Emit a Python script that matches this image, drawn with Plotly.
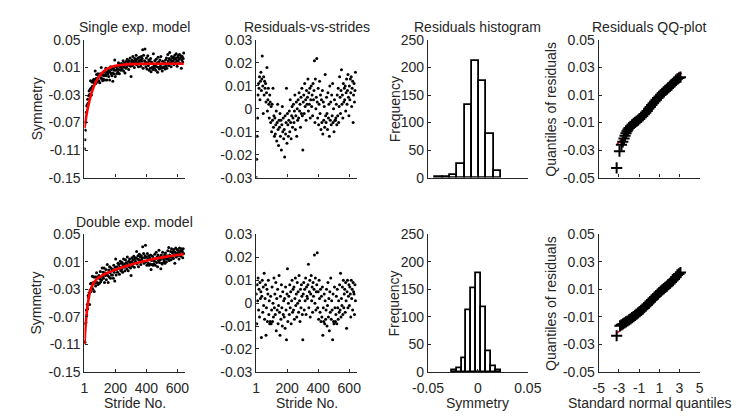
import plotly.graph_objects as go

# ---------------- data ----------------
# Row 1: single exponential model
fit_single_stride = [1, 4, 7, 10, 13, 16, 19, 25, 31, 37, 43, 49, 55, 61, 70, 79, 91, 103, 115, 130,
                     145, 160, 180, 210, 250, 300, 360, 450, 540, 640]
fit_single_value = [-0.0780, -0.0733, -0.0688, -0.0646, -0.0605, -0.0567, -0.0531, -0.0463, -0.0403, -0.0348,
                    -0.0298, -0.0254, -0.0214, -0.0177, -0.0130, -0.0089, -0.0043, -0.0006, 0.0024, 0.0054,
                    0.0077, 0.0095, 0.0113, 0.0129, 0.0142, 0.0150, 0.0153, 0.0155, 0.0155, 0.0155]

sym_single = [
    -0.108, -0.095, -0.081, -0.069, -0.055, -0.046, -0.044, -0.036, -0.042, -0.031,
    -0.024, -0.029, -0.022, -0.009, -0.020, -0.030, -0.011, -0.017, -0.009, -0.011,
    -0.007, -0.013, -0.008, 0.005, -0.013, -0.006, 0.000, -0.006, -0.011, 0.001,
    -0.001, -0.009, -0.001, -0.012, 0.001, -0.005, 0.010, -0.006, -0.001, -0.009,
    0.000, -0.007, -0.002, 0.004, -0.008, 0.000, 0.009, -0.002, -0.008, 0.003,
    0.001, 0.007, -0.003, 0.005, -0.008, 0.003, 0.011, 0.001, 0.007, -0.002,
    0.002, -0.010, 0.009, 0.001, 0.006, 0.021, -0.003, 0.011, 0.006, 0.001,
    0.008, 0.012, 0.003, 0.017, 0.007, 0.001, 0.011, 0.015, 0.006, 0.010,
    0.016, 0.008, 0.013, 0.020, 0.005, 0.011, 0.017, 0.002, 0.014, 0.009,
    0.019, 0.011, 0.022, 0.014, 0.017, 0.007, 0.020, 0.013, 0.024, 0.012,
    -0.003, 0.018, 0.021, 0.013, 0.026, 0.016, 0.019, 0.010, 0.023, 0.017,
    0.020, 0.028, 0.014, 0.022, 0.017, 0.024, 0.011, 0.019, 0.025, 0.016,
    0.021, 0.012, 0.026, 0.019, 0.023, 0.036, 0.009, 0.028, 0.015, 0.020,
    0.037, 0.018, 0.011, 0.024, 0.008, 0.017, 0.027, 0.013, 0.021, 0.006,
    0.019, 0.009, 0.023, 0.004, 0.018, 0.010, 0.016, 0.007, 0.030, 0.012,
    0.009, 0.020, 0.013, 0.006, 0.022, 0.011, 0.017, 0.003, 0.025, 0.010,
    0.018, 0.008, 0.021, 0.012, 0.026, 0.009, 0.015, 0.005, 0.019, 0.010,
    0.010, 0.011, 0.017, 0.008, 0.021, 0.012, 0.024, 0.009, 0.016, 0.029,
    0.020, 0.013, 0.023, 0.032, 0.017, 0.021, 0.011, 0.026, 0.018, 0.024,
    0.019, 0.025, 0.014, 0.022, 0.028, 0.017, 0.023, 0.030, 0.020, 0.012,
    0.025, 0.019, 0.028, 0.022, 0.029, 0.016, 0.024, 0.027, 0.009, 0.021,
    0.026, 0.018, 0.023, 0.031,
]

res_single = [
    -0.030, -0.022, -0.012, -0.004, 0.006, 0.011, 0.009, 0.014, 0.004, 0.012,
    0.016, 0.008, 0.013, 0.023, 0.010, -0.002, 0.014, 0.006, 0.012, 0.009,
    0.011, 0.003, 0.007, 0.018, -0.001, 0.004, 0.009, 0.002, -0.004, 0.006,
    0.003, -0.006, 0.001, -0.010, 0.002, -0.005, 0.009, -0.008, -0.003, -0.012,
    -0.004, -0.011, -0.007, -0.001, -0.014, -0.006, 0.002, -0.009, -0.016, -0.005,
    -0.008, -0.002, -0.012, -0.005, -0.018, -0.007, 0.001, -0.010, -0.004, -0.013,
    -0.009, -0.021, -0.003, -0.011, -0.006, 0.009, -0.015, -0.002, -0.007, -0.012,
    -0.005, -0.001, -0.010, 0.004, -0.006, -0.013, -0.003, 0.001, -0.008, -0.004,
    0.002, -0.006, -0.001, 0.006, -0.009, -0.003, 0.003, -0.012, 0.000, -0.005,
    0.004, -0.004, 0.007, -0.001, 0.002, -0.008, 0.005, -0.002, 0.009, -0.003,
    -0.018, 0.003, 0.006, -0.002, 0.011, 0.001, 0.004, -0.005, 0.008, 0.002,
    0.005, 0.013, -0.001, 0.007, 0.002, 0.009, -0.004, 0.004, 0.010, 0.001,
    0.006, -0.003, 0.011, 0.004, 0.008, 0.021, -0.006, 0.013, 0.000, 0.005,
    0.022, 0.003, -0.004, 0.009, -0.007, 0.002, 0.012, -0.002, 0.006, -0.009,
    0.004, -0.006, 0.008, -0.011, 0.003, -0.005, 0.001, -0.008, 0.015, -0.003,
    -0.006, 0.005, -0.002, -0.009, 0.007, -0.004, 0.002, -0.012, 0.010, -0.005,
    0.003, -0.007, 0.006, -0.003, 0.011, -0.006, 0.000, -0.010, 0.004, -0.005,
    -0.005, -0.004, 0.002, -0.007, 0.006, -0.003, 0.009, -0.006, 0.001, 0.014,
    0.005, -0.002, 0.008, 0.017, 0.002, 0.006, -0.004, 0.011, 0.003, 0.009,
    0.004, 0.010, -0.001, 0.007, 0.013, 0.002, 0.008, 0.015, 0.005, -0.003,
    0.010, 0.004, 0.013, 0.007, 0.014, 0.001, 0.009, 0.012, -0.006, 0.006,
    0.011, 0.003, 0.008, 0.016,
]

hist_single_center = [-0.03885, -0.03155, -0.02425, -0.01695, -0.00965, -0.00235, 0.00495, 0.01225, 0.01955]
hist_single_count = [1, 1, 4, 25, 132, 211, 175, 80, 12]
hist_single_binwidth = 0.0073

qq_single_theory = [-3.23, -2.95, -2.75, -2.62, -2.5, -2.4, -2.3, -2.2, -2.1, -2.0,
                    -1.85, -1.7, -1.55, -1.4, -1.25, -1.1, -0.95, -0.8, -0.65, -0.5,
                    -0.35, -0.2, -0.05, 0.1, 0.25, 0.4, 0.55, 0.7, 0.85, 1.0,
                    1.15, 1.3, 1.45, 1.6, 1.75, 1.9, 2.05, 2.2, 2.35, 2.5,
                    2.65, 2.8, 2.95, 3.1]
qq_single_sample = [-0.0430, -0.0308, -0.0262, -0.0240, -0.0215, -0.0195, -0.0178, -0.0163, -0.0150, -0.0139,
                    -0.0127, -0.0116, -0.0106, -0.0098, -0.0090, -0.0082, -0.0072, -0.0062, -0.0052, -0.0040,
                    -0.0028, -0.0015, 0.0000, 0.0014, 0.0028, 0.0041, 0.0053, 0.0066, 0.0078, 0.0090,
                    0.0102, 0.0113, 0.0124, 0.0134, 0.0143, 0.0153, 0.0163, 0.0173, 0.0184, 0.0196,
                    0.0208, 0.0218, 0.0225, 0.0230]
qq_single_ref_x = [-3.2, 3.2]
qq_single_ref_y = [-0.0259, 0.0261]

# Row 2: double exponential model
fit_double_stride = [1, 4, 7, 10, 13, 16, 19, 22, 25, 31, 37, 43, 49, 55, 61, 70, 80, 91,
                     121, 151, 181, 211, 241, 271, 301, 331, 361, 391, 421, 451, 481, 511, 541, 571, 601, 640]
fit_double_value = [-0.1100, -0.0977, -0.0876, -0.0785, -0.0706, -0.0637, -0.0576, -0.0523, -0.0476,
                    -0.0400, -0.0341, -0.0294, -0.0257, -0.0228, -0.0204, -0.0176, -0.0153, -0.0132,
                    -0.0090, -0.0058, -0.0031, -0.0005, 0.0019, 0.0041, 0.0061, 0.0080, 0.0098,
                    0.0114, 0.0129, 0.0144, 0.0157, 0.0169, 0.0180, 0.0190, 0.0200, 0.0211]

sym_double = [
    -0.106, -0.107, -0.080, -0.078, -0.060, -0.067, -0.052, -0.058, -0.039, -0.042,
    -0.035, -0.052, -0.031, -0.022, -0.033, -0.021, -0.027, -0.011, -0.030, -0.020,
    -0.012, -0.033, -0.021, -0.012, -0.025, -0.012, -0.006, -0.020, -0.013, -0.023,
    -0.021, -0.010, -0.021, -0.015, -0.004, -0.019, -0.011, -0.016, 0.001, -0.011,
    -0.005, -0.014, 0.001, -0.020, -0.006, -0.010, -0.001, -0.016, -0.007, 0.006,
    -0.010, -0.020, -0.002, -0.012, 0.003, -0.006, -0.014, 0.001, -0.009, -0.002,
    -0.009, -0.001, -0.014, 0.005, -0.005, -0.018, 0.002, 0.014, -0.009, -0.001,
    0.003, -0.005, 0.008, 0.000, 0.006, -0.008, 0.002, 0.011, -0.003, 0.008,
    -0.001, 0.009, -0.005, 0.005, 0.014, 0.002, 0.007, -0.003, 0.013, 0.004,
    0.009, 0.000, 0.017, 0.006, -0.003, 0.011, 0.003, 0.014, 0.009, 0.001,
    -0.010, 0.010, 0.016, 0.004, 0.013, 0.008, 0.018, 0.002, 0.015, 0.011,
    0.010, 0.016, 0.025, 0.007, 0.014, 0.019, 0.003, 0.013, 0.021, 0.011,
    0.017, 0.006, 0.019, 0.013, 0.016, 0.032, 0.011, 0.022, 0.008, 0.016,
    0.019, 0.034, 0.010, 0.017, 0.005, 0.022, 0.014, 0.008, 0.019, 0.005,
    0.016, 0.007, 0.020, -0.001, 0.012, 0.006, 0.018, 0.005, 0.015, 0.007,
    0.011, 0.021, 0.005, 0.014, 0.024, 0.009, 0.017, 0.003, 0.020, 0.012,
    0.027, 0.009, 0.017, 0.013, 0.000, 0.020, 0.008, 0.007, 0.024, 0.015,
    0.009, 0.012, 0.020, 0.008, 0.023, 0.015, 0.010, 0.019, 0.014, 0.026,
    0.015, 0.031, 0.012, 0.020, 0.017, 0.025, 0.013, 0.029, 0.017, 0.023,
    0.025, 0.015, 0.028, 0.020, 0.008, 0.024, 0.030, 0.017, 0.022, 0.028,
    0.019, 0.027, 0.024, 0.014, 0.030, 0.022, 0.026, 0.018, 0.029, 0.026,
    0.025, 0.016, 0.029, 0.022,
]

res_double = [
    0.004, -0.009, 0.008, 0.001, 0.011, -0.003, 0.006, -0.006, 0.009, 0.002,
    0.005, -0.015, 0.003, 0.010, -0.004, 0.007, -0.001, 0.013, -0.007, 0.002,
    0.008, -0.014, -0.002, 0.006, -0.008, 0.004, 0.010, -0.005, 0.001, -0.009,
    -0.008, 0.003, -0.009, -0.003, 0.007, -0.008, 0.000, -0.006, 0.011, -0.002,
    0.004, -0.005, 0.009, -0.012, 0.002, -0.003, 0.006, -0.009, -0.001, 0.012,
    -0.004, -0.014, 0.003, -0.007, 0.008, -0.002, -0.010, 0.005, -0.005, 0.001,
    -0.006, 0.002, -0.011, 0.007, -0.003, -0.016, 0.004, 0.015, -0.008, 0.000,
    0.003, -0.005, 0.008, -0.002, 0.005, -0.009, 0.001, 0.010, -0.004, 0.006,
    -0.003, 0.007, -0.007, 0.002, 0.011, -0.001, 0.004, -0.006, 0.009, 0.000,
    0.005, -0.004, 0.012, 0.001, -0.008, 0.006, -0.002, 0.008, 0.003, -0.005,
    -0.016, 0.004, 0.009, -0.003, 0.006, 0.001, 0.011, -0.005, 0.007, 0.003,
    0.002, 0.008, 0.017, -0.002, 0.005, 0.010, -0.006, 0.004, 0.012, 0.001,
    0.007, -0.004, 0.009, 0.003, 0.006, 0.021, 0.000, 0.011, -0.003, 0.005,
    0.008, 0.022, -0.002, 0.005, -0.007, 0.010, 0.002, -0.004, 0.006, -0.008,
    0.003, -0.006, 0.007, -0.014, -0.002, -0.008, 0.004, -0.009, 0.001, -0.007,
    -0.003, 0.006, -0.010, -0.001, 0.009, -0.006, 0.002, -0.012, 0.005, -0.004,
    0.011, -0.007, 0.001, -0.003, -0.016, 0.004, -0.008, -0.009, 0.007, -0.002,
    -0.008, -0.005, 0.003, -0.009, 0.006, -0.002, -0.007, 0.001, -0.004, 0.008,
    -0.003, 0.013, -0.006, 0.002, -0.001, 0.007, -0.005, 0.010, -0.002, 0.004,
    0.006, -0.004, 0.009, 0.001, -0.011, 0.005, 0.010, -0.002, 0.003, 0.008,
    -0.001, 0.007, 0.004, -0.006, 0.010, 0.002, 0.006, -0.003, 0.009, 0.005,
    0.004, -0.005, 0.008, 0.001,
]

hist_double_center = [-0.0237, -0.0188, -0.0139, -0.0090, -0.0041, 0.0008, 0.0057, 0.0106, 0.0155, 0.0204]
hist_double_count = [2, 7, 25, 112, 152, 180, 118, 38, 10, 2]
hist_double_binwidth = 0.0049

qq_double_theory = [-3.23, -2.9, -2.75, -2.6, -2.45, -2.3, -2.15, -2.0, -1.85, -1.7,
                    -1.55, -1.4, -1.25, -1.1, -0.95, -0.8, -0.65, -0.5, -0.35, -0.2,
                    -0.05, 0.1, 0.25, 0.4, 0.55, 0.7, 0.85, 1.0, 1.15, 1.3,
                    1.45, 1.6, 1.75, 1.9, 2.05, 2.2, 2.35, 2.5, 2.65, 2.8,
                    2.95, 3.1]
qq_double_sample = [-0.0237, -0.0165, -0.0158, -0.0151, -0.0144, -0.0137, -0.0130, -0.0122, -0.0114, -0.0106,
                    -0.0098, -0.0089, -0.0080, -0.0071, -0.0062, -0.0052, -0.0043, -0.0033, -0.0022, -0.0011,
                    0.0000, 0.0011, 0.0022, 0.0033, 0.0044, 0.0055, 0.0066, 0.0077, 0.0087, 0.0097,
                    0.0106, 0.0115, 0.0124, 0.0134, 0.0144, 0.0154, 0.0164, 0.0176, 0.0190, 0.0205,
                    0.0212, 0.0222]
qq_double_ref_x = [-3.2, 3.2]
qq_double_ref_y = [-0.0219, 0.0219]

# tick labels
stride_ticks = [1, 200, 400, 600]
stride_labels = ["1", "200", "400", "600"]
sym_ticks = [-0.15, -0.11, -0.07, -0.03, 0.01, 0.05]
sym_labels = ["-0.15", "-0.11", "-0.07", "-0.03", "0.01", "0.05"]
res_ticks = [-0.03, -0.02, -0.01, 0, 0.01, 0.02, 0.03]
res_labels = ["-0.03", "-0.02", "-0.01", "0", "0.01", "0.02", "0.03"]
freq_ticks = [0, 50, 100, 150, 200, 250]
freq_labels = ["0", "50", "100", "150", "200", "250"]
hist_x_ticks = [-0.05, 0, 0.05]
hist_x_labels = ["-0.05", "0", "0.05"]
qq_y_ticks = [-0.05, -0.03, -0.01, 0.01, 0.03, 0.05]
qq_y_labels = ["-0.05", "-0.03", "-0.01", "0.01", "0.03", "0.05"]
qq_x_ticks = [-5, -3, -1, 1, 3, 5]
qq_x_labels = ["-5", "-3", "-1", "1", "3", "5"]

# ---------------- figure ----------------
W, H = 743, 420
INK = "#262626"
FONT = "Liberation Sans, Arial, Helvetica, sans-serif"
FS = 14

cols_px = [(63, 168), (242, 347), (421, 525), (599, 704)]
rows_px = [(25, 168), (227, 370)]


def xdom(c):
    a, b = cols_px[c]
    return [a / W, b / W]


def ydom(r):
    t, b = rows_px[r]
    return [1 - b / H, 1 - t / H]


fig = go.Figure()


def strides_for(values):
    return [1 + 3 * i for i in range(len(values))]


panels = [(r, c) for r in range(2) for c in range(4)]


def ax(k):
    return ("x" if k == 1 else f"x{k}"), ("y" if k == 1 else f"y{k}")


dot = dict(color="black", size=3)
plus = dict(symbol="cross-thin", size=8, color="black", line=dict(color="black", width=2))

for row, (sym, fitx, fity, res, hc, hn, hw, qx, qy, rx, ry) in enumerate([
    (sym_single, fit_single_stride, fit_single_value, res_single, hist_single_center, hist_single_count,
     hist_single_binwidth, qq_single_theory, qq_single_sample, qq_single_ref_x, qq_single_ref_y),
    (sym_double, fit_double_stride, fit_double_value, res_double, hist_double_center, hist_double_count,
     hist_double_binwidth, qq_double_theory, qq_double_sample, qq_double_ref_x, qq_double_ref_y),
]):
    base = row * 4
    xa, ya = ax(base + 1)
    fig.add_trace(go.Scatter(x=strides_for(sym), y=sym, mode="markers", marker=dot, xaxis=xa, yaxis=ya))
    fig.add_trace(go.Scatter(x=fitx, y=fity, mode="lines", line=dict(color="#ff0000", width=2.6, shape="spline"),
                             xaxis=xa, yaxis=ya))
    xa, ya = ax(base + 2)
    fig.add_trace(go.Scatter(x=strides_for(res), y=res, mode="markers", marker=dot, xaxis=xa, yaxis=ya))
    xa, ya = ax(base + 3)
    fig.add_trace(go.Bar(x=hc, y=hn, width=[hw] * len(hc),
                         marker=dict(color="white", line=dict(color="black", width=1.8)),
                         xaxis=xa, yaxis=ya))
    xa, ya = ax(base + 4)
    fig.add_trace(go.Scatter(x=rx, y=ry, mode="lines", line=dict(color="#ff0000", width=1.5),
                             xaxis=xa, yaxis=ya))
    fig.add_trace(go.Scatter(x=qx, y=qy, mode="markers", marker=plus, xaxis=xa, yaxis=ya))

axis_common = dict(showline=True, linecolor=INK, linewidth=1.3, ticks="inside", ticklen=3,
                   tickwidth=1, tickcolor=INK, showgrid=False, zeroline=False, fixedrange=True,
                   tickfont=dict(family=FONT, size=FS, color=INK), mirror=False)

xspecs = [
    ([1, 650], stride_ticks, stride_labels),
    ([1, 650], stride_ticks, stride_labels),
    ([-0.05, 0.05], hist_x_ticks, hist_x_labels),
    ([-5, 5], qq_x_ticks, qq_x_labels),
]
yspecs = [
    ([-0.15, 0.05], sym_ticks, sym_labels),
    ([-0.03, 0.03], res_ticks, res_labels),
    ([0, 250], freq_ticks, freq_labels),
    ([-0.05, 0.05], qq_y_ticks, qq_y_labels),
]

layout_axes = {}
for k, (r, c) in enumerate(panels, start=1):
    xname = "xaxis" if k == 1 else f"xaxis{k}"
    yname = "yaxis" if k == 1 else f"yaxis{k}"
    xr, xt, xl = xspecs[c]
    yr, yt, yl = yspecs[c]
    xref, yref = ax(k)
    layout_axes[xname] = dict(axis_common, domain=xdom(c), range=xr, tickvals=xt, ticktext=xl,
                              anchor=yref, showticklabels=(r == 1), ticklabelstandoff=3)
    layout_axes[yname] = dict(axis_common, domain=ydom(r), range=yr, tickvals=yt, ticktext=yl,
                              anchor=xref)

annotations = []


def text_ann(txt, x_px, y_px, angle=0):
    annotations.append(dict(text=txt, x=x_px / W, y=1 - y_px / H, xref="paper", yref="paper",
                            showarrow=False, xanchor="center", yanchor="middle", textangle=angle,
                            font=dict(family=FONT, size=FS, color=INK)))


# titles
text_ann("Single exp. model", 115.5, 11)
text_ann("Residuals-vs-strides", 294.5, 11)
text_ann("Residuals histogram", 473, 11)
text_ann("Residuals QQ-plot", 651.5, 11)
text_ann("Double exp. model", 115.5, 214)
# y-axis titles
for yc in (96.5, 298.5):
    text_ann("Symmetry", 13, yc, -90)
    text_ann("Frequency", 386, yc, -90)
    text_ann("Quantiles of residuals", 549, yc, -90)
# x-axis titles
text_ann("Stride No.", 115.5, 402)
text_ann("Stride No.", 294.5, 402)
text_ann("Symmetry", 473, 402)
text_ann("Standard normal quantiles", 651.5, 402)

fig.update_layout(
    width=W, height=H, margin=dict(l=0, r=0, t=0, b=0),
    paper_bgcolor="white", plot_bgcolor="white", showlegend=False,
    bargap=0, annotations=annotations, **layout_axes,
)

fig.write_html("out.html", config={"displayModeBar": False})
